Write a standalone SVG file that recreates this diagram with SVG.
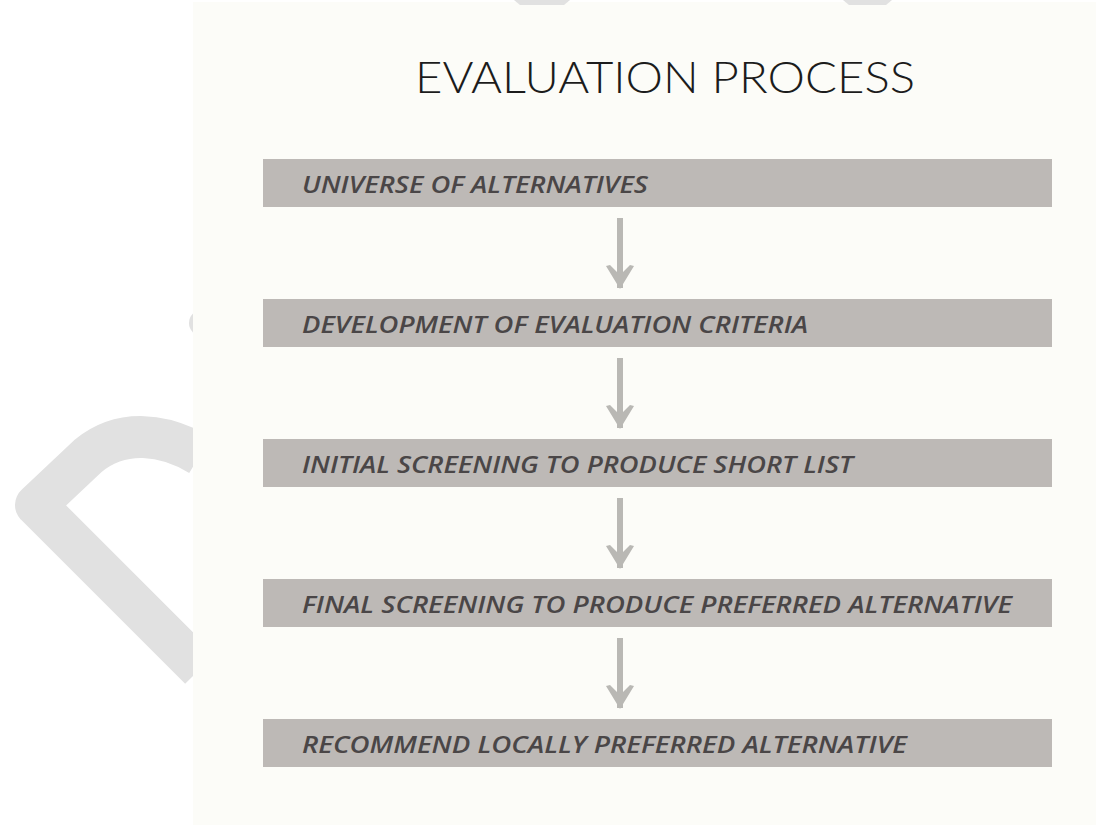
<svg xmlns="http://www.w3.org/2000/svg" width="1096" height="825" viewBox="0 0 1096 825">
  <defs>
    <style>
      .panel { fill: #fcfcf8; }
      .wm { fill: #e1e1e1; }
      .wmline { fill: none; stroke: #e1e1e1; stroke-width: 42; stroke-linejoin: round; stroke-linecap: butt; }
      .box { fill: #bdb9b6; }
      .label { font-family: "Open Sans", "Liberation Sans", sans-serif; font-style: italic; font-weight: 600; font-size: 24px; fill: #4a4647; }
      .title { font-family: "Lato", "Open Sans", "Liberation Sans", sans-serif; font-weight: 300; font-size: 44px; fill: #1c1c1c; }
      .shaft { stroke: #b9b8b4; stroke-width: 6; fill: none; }
      .head { fill: #b9b8b4; }
    </style>
    <clipPath id="leftClip">
      <rect x="0" y="0" width="193" height="825"/>
    </clipPath>
    <marker id="arrowHead" viewBox="0 0 24 28" refX="23" refY="14" markerWidth="24" markerHeight="28" markerUnits="userSpaceOnUse" orient="auto">
      <path class="head" d="M24,14 L1,0 L0,4 L10,14 L0,24 L1,28 Z"/>
    </marker>
  </defs>

  <!-- page background -->
  <rect x="0" y="0" width="1096" height="825" fill="#ffffff"/>
  <rect class="panel" x="193" y="2" width="903" height="823"/>

  <!-- watermark fragments -->
  <g id="watermark">
    <g clip-path="url(#leftClip)">
      <path class="wmline" d="M200,455 C165,434 122,428 88,456 L36,505 L200,669"/>
      <circle class="wm" cx="202" cy="323" r="13"/>
    </g>
    <polygon class="wm" points="514,0 570,0 564,5 520,5"/>
    <polygon class="wm" points="843,0 892,0 886,5 849,5"/>
  </g>

  <!-- title -->
  <g id="title">
    <text class="title" x="415" y="93" textLength="500" lengthAdjust="spacingAndGlyphs">EVALUATION PROCESS</text>
  </g>

  <!-- nodes -->
  <g id="node1">
    <rect class="box" x="263" y="159" width="789" height="48"/>
    <text class="label" x="302" y="193" textLength="346" lengthAdjust="spacingAndGlyphs">UNIVERSE OF ALTERNATIVES</text>
  </g>
  <g id="node2">
    <rect class="box" x="263" y="299" width="789" height="48"/>
    <text class="label" x="302" y="333" textLength="506" lengthAdjust="spacingAndGlyphs">DEVELOPMENT OF EVALUATION CRITERIA</text>
  </g>
  <g id="node3">
    <rect class="box" x="263" y="439" width="789" height="48"/>
    <text class="label" x="302" y="473" textLength="551" lengthAdjust="spacingAndGlyphs">INITIAL SCREENING TO PRODUCE SHORT LIST</text>
  </g>
  <g id="node4">
    <rect class="box" x="263" y="579" width="789" height="48"/>
    <text class="label" x="302" y="613" textLength="710" lengthAdjust="spacingAndGlyphs">FINAL SCREENING TO PRODUCE PREFERRED ALTERNATIVE</text>
  </g>
  <g id="node5">
    <rect class="box" x="263" y="719" width="789" height="48"/>
    <text class="label" x="302" y="753" textLength="605" lengthAdjust="spacingAndGlyphs">RECOMMEND LOCALLY PREFERRED ALTERNATIVE</text>
  </g>

  <!-- connectors -->
  <g id="connectors">
    <line class="shaft" x1="620" y1="218" x2="620" y2="288" marker-end="url(#arrowHead)"/>
    <line class="shaft" x1="620" y1="358" x2="620" y2="428" marker-end="url(#arrowHead)"/>
    <line class="shaft" x1="620" y1="498" x2="620" y2="568" marker-end="url(#arrowHead)"/>
    <line class="shaft" x1="620" y1="638" x2="620" y2="708" marker-end="url(#arrowHead)"/>
  </g>
</svg>
